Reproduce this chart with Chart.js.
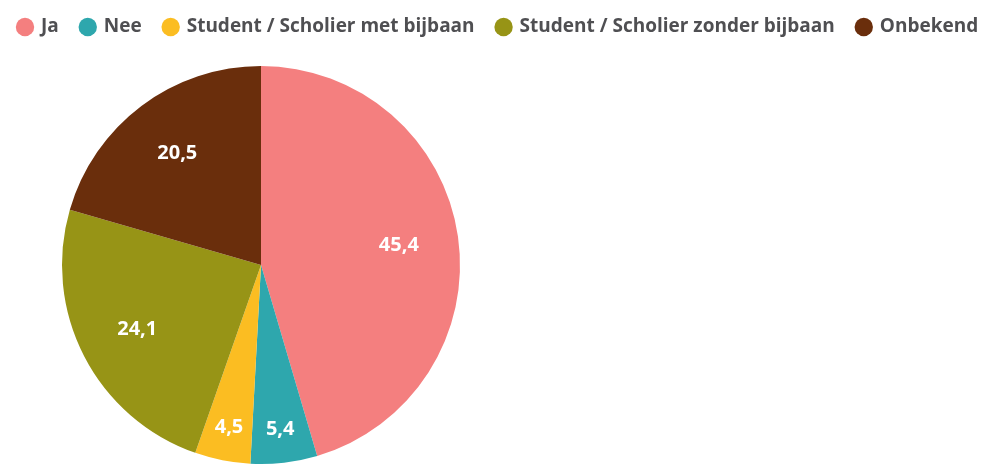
<!DOCTYPE html>
<html>
<head>
<meta charset="utf-8">
<script src="https://cdn.jsdelivr.net/npm/chart.js@4/dist/chart.umd.min.js"></script>
<style>
  html, body { margin: 0; padding: 0; background: #fff; overflow: hidden; }
  #wrap { width: 1060px; height: 465px; position: relative; }
</style>
</head>
<body>
<div id="wrap"><canvas id="pie"></canvas></div>
<script>
const labels = ['Ja', 'Nee', 'Student / Scholier met bijbaan', 'Student / Scholier zonder bijbaan', 'Onbekend'];
const values = [45.4, 5.4, 4.5, 24.1, 20.5];
const colors = ['#f47f7f', '#2ea7ad', '#fbbd22', '#979416', '#6a2e0c'];

// pie sits on the left, under a legend that runs across the whole width
const pieBox = {
    id: 'pieBox',
    afterLayout(chart) {
        const a = chart.chartArea;
        a.left = 61; a.right = 461; a.top = 66; a.bottom = 464;
        a.width = a.right - a.left;
        a.height = a.bottom - a.top;
    }
};

// write the percentage inside each slice, small slices a bit further out
const sliceLabels = {
    id: 'sliceLabels',
    afterDatasetsDraw(chart) {
        const ctx = chart.ctx;
        const meta = chart.getDatasetMeta(0);
        ctx.save();
        ctx.font = 'bold 20px "Open Sans", sans-serif';
        ctx.fillStyle = '#fff';
        ctx.textAlign = 'center';
        ctx.textBaseline = 'middle';
        meta.data.forEach((arc, i) => {
            const p = arc.getProps(['x', 'y', 'startAngle', 'endAngle', 'outerRadius']);
            const mid = (p.startAngle + p.endAngle) / 2;
            const f = values[i] < 10 ? 0.83 : 0.7;
            const x = p.x + Math.cos(mid) * p.outerRadius * f;
            const y = p.y + Math.sin(mid) * p.outerRadius * f;
            ctx.fillText(values[i].toFixed(1).replace('.', ','), x, y);
        });
        ctx.restore();
    }
};

const ctx = document.getElementById('pie');
const pieChart = new Chart(ctx, {
    type: 'pie',
    data: {
        labels: labels,
        datasets: [{
            data: values,
            backgroundColor: colors,
            borderWidth: 0
        }]
    },
    options: {
        responsive: true,
        maintainAspectRatio: false,
        animation: false,
        layout: {
            padding: {left: -4, right: 0, top: -5, bottom: 0}
        },
        plugins: {
            legend: {
                position: 'top',
                align: 'start',
                labels: {
                    usePointStyle: true,
                    pointStyle: 'circle',
                    boxWidth: 13,
                    boxHeight: 13,
                    padding: 22.5,
                    color: '#4f4f52',
                    font: {family: '"Open Sans", sans-serif', size: 19, weight: 'bold'}
                }
            },
            tooltip: {enabled: false}
        }
    },
    plugins: [pieBox, sliceLabels]
});
</script>
</body>
</html>
